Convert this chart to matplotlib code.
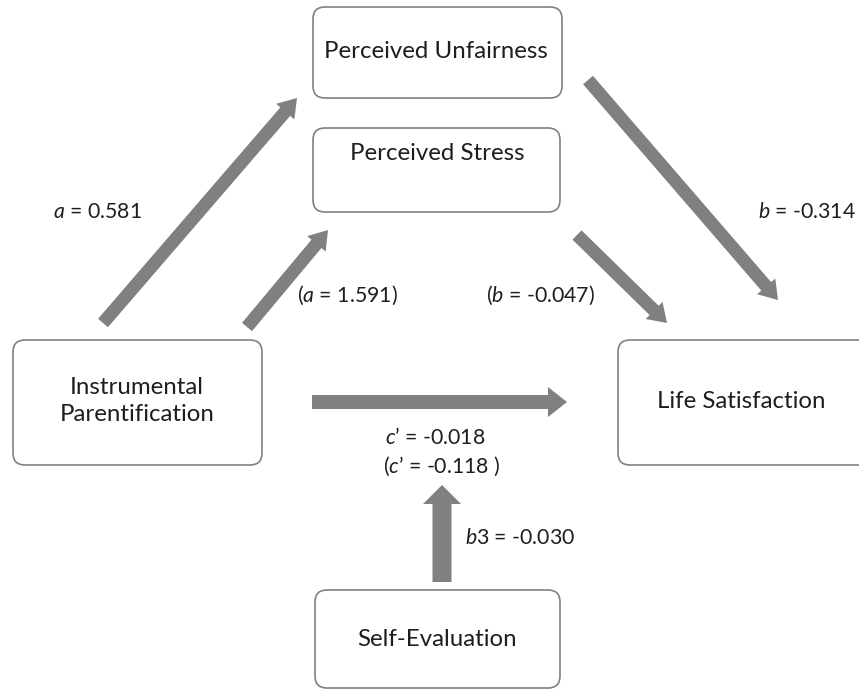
import matplotlib
matplotlib.use("Agg")
import matplotlib.pyplot as plt
from matplotlib.patches import FancyBboxPatch, FancyArrow

plt.rcParams['font.family'] = 'Lato'
plt.rcParams['mathtext.fontset'] = 'custom'
plt.rcParams['mathtext.rm'] = 'Lato'
plt.rcParams['mathtext.it'] = 'Lato:italic'

# variables in the mediation model
nodes = ['Perceived Unfairness', 'Perceived Stress', 'Instrumental\nParentification',
         'Life Satisfaction', 'Self-Evaluation']

# path coefficients
coef_names = ['$a$', '($a$', '$b$', '($b$', "$c$\u2019", "($c$\u2019", r'$\mathit{b3}$']
coef_values = [0.581, 1.591, -0.314, -0.047, -0.018, -0.118, -0.030]
coef_close = ['', ')', '', ')', '', ' )', '']

# layout (pixels, y down)
boxes = [(313, 7, 249, 91), (313, 128, 247, 84), (13, 340, 249, 125),
         (618, 340, 260, 125), (315, 590, 245, 98)]
text_pos = [(436, 52), (437, 154), (137, 401), (741, 402), (437, 640)]

arrows = [((103, 323), (297, 98), 13, 24, 18),
          ((247, 327), (328, 230), 13, 24, 18),
          ((588, 80), (778, 300), 13, 24, 18),
          ((577, 235), (667, 323), 13, 24, 18),
          ((312, 402), (567, 402), 14, 30, 19),
          ((442, 582), (442, 485), 19, 38, 19)]
label_pos = [(97, 212, 'center'), (347, 295, 'center'), (807, 212, 'center'),
             (541, 295, 'center'), (435, 437, 'center'), (442, 466, 'center'),
             (465, 538, 'left')]

fig = plt.figure(figsize=(8.59, 6.89), dpi=100)
ax = fig.add_axes([0, 0, 1, 1])
ax.set_xlim(0, 859)
ax.set_ylim(689, 0)
ax.axis('off')

for (x, y, w, h), name, (tx, ty) in zip(boxes, nodes, text_pos):
    ax.add_patch(FancyBboxPatch((x, y), w, h, boxstyle='round,pad=0,rounding_size=12',
                                facecolor='white', edgecolor='#808080', linewidth=1.2))
    ax.text(tx, ty, name, ha='center', va='center', fontsize=17.3, color='#1e1e1e',
            linespacing=1.4)

for (x0, y0), (x1, y1), w, hw, hl in arrows:
    ax.add_patch(FancyArrow(x0, y0, x1 - x0, y1 - y0, width=w, head_width=hw,
                            head_length=hl, length_includes_head=True,
                            color='#808080', linewidth=0))

for name, val, close, (lx, ly, ha) in zip(coef_names, coef_values, coef_close, label_pos):
    ax.text(lx, ly, f'{name} = {val:.3f}{close}', ha=ha, va='center',
            fontsize=15.3, color='#1e1e1e')

fig.savefig('out.png', dpi=100)
